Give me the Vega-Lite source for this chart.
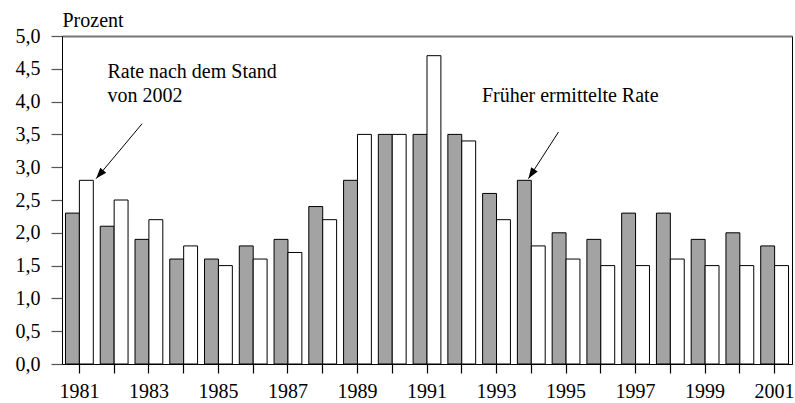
{
  "$schema": "https://vega.github.io/schema/vega-lite/v6.json",
  "width": 730,
  "height": 328,
  "autosize": "none",
  "padding": {"left": 62, "top": 36, "right": 3, "bottom": 39},
  "config": {
    "font": "Liberation Serif",
    "locale": {"number": {"decimal": ",", "thousands": ".", "grouping": [3], "currency": ["", " €"]}},
    "view": {"stroke": "black", "strokeWidth": 1},
    "axis": {"labelFont": "Liberation Serif", "labelFontSize": 20, "labelColor": "black", "grid": false}
  },
  "encoding": {
    "y": {
      "field": "value", "type": "quantitative",
      "scale": {"domain": [0, 5], "nice": false},
      "axis": {
        "title": "Prozent", "titleAngle": 0, "titleAlign": "left", "titleBaseline": "alphabetic",
        "titleX": 0, "titleY": -10, "titleFontSize": 20, "titleFontWeight": "normal",
        "titleFont": "Liberation Serif", "titleColor": "black",
        "values": [0, 0.5, 1, 1.5, 2, 2.5, 3, 3.5, 4, 4.5, 5], "format": ".1f",
        "tickSize": 11, "tickWidth": 1.2, "tickColor": "#555", "domainColor": "black", "labelPadding": 11
      }
    }
  },
  "layer": [
    {
      "data": {
        "values": [
          {"year": 1981, "series": "alt", "value": 2.3}, {"year": 1981, "series": "neu", "value": 2.8},
          {"year": 1982, "series": "alt", "value": 2.1}, {"year": 1982, "series": "neu", "value": 2.5},
          {"year": 1983, "series": "alt", "value": 1.9}, {"year": 1983, "series": "neu", "value": 2.2},
          {"year": 1984, "series": "alt", "value": 1.6}, {"year": 1984, "series": "neu", "value": 1.8},
          {"year": 1985, "series": "alt", "value": 1.6}, {"year": 1985, "series": "neu", "value": 1.5},
          {"year": 1986, "series": "alt", "value": 1.8}, {"year": 1986, "series": "neu", "value": 1.6},
          {"year": 1987, "series": "alt", "value": 1.9}, {"year": 1987, "series": "neu", "value": 1.7},
          {"year": 1988, "series": "alt", "value": 2.4}, {"year": 1988, "series": "neu", "value": 2.2},
          {"year": 1989, "series": "alt", "value": 2.8}, {"year": 1989, "series": "neu", "value": 3.5},
          {"year": 1990, "series": "alt", "value": 3.5}, {"year": 1990, "series": "neu", "value": 3.5},
          {"year": 1991, "series": "alt", "value": 3.5}, {"year": 1991, "series": "neu", "value": 4.7},
          {"year": 1992, "series": "alt", "value": 3.5}, {"year": 1992, "series": "neu", "value": 3.4},
          {"year": 1993, "series": "alt", "value": 2.6}, {"year": 1993, "series": "neu", "value": 2.2},
          {"year": 1994, "series": "alt", "value": 2.8}, {"year": 1994, "series": "neu", "value": 1.8},
          {"year": 1995, "series": "alt", "value": 2.0}, {"year": 1995, "series": "neu", "value": 1.6},
          {"year": 1996, "series": "alt", "value": 1.9}, {"year": 1996, "series": "neu", "value": 1.5},
          {"year": 1997, "series": "alt", "value": 2.3}, {"year": 1997, "series": "neu", "value": 1.5},
          {"year": 1998, "series": "alt", "value": 2.3}, {"year": 1998, "series": "neu", "value": 1.6},
          {"year": 1999, "series": "alt", "value": 1.9}, {"year": 1999, "series": "neu", "value": 1.5},
          {"year": 2000, "series": "alt", "value": 2.0}, {"year": 2000, "series": "neu", "value": 1.5},
          {"year": 2001, "series": "alt", "value": 1.8}, {"year": 2001, "series": "neu", "value": 1.5}
        ]
      },
      "mark": {"type": "bar", "stroke": "black", "strokeWidth": 1},
      "encoding": {
        "x": {
          "field": "year", "type": "ordinal",
          "scale": {"paddingInner": 0.2, "paddingOuter": 0.1},
          "axis": {
            "title": null, "labelAngle": 0, "tickSize": 9, "tickWidth": 1.2, "tickColor": "black",
            "domainColor": "black", "labelPadding": 8,
            "labelExpr": "datum.value % 2 == 1 ? datum.label : ''"
          }
        },
        "xOffset": {
          "field": "series", "type": "nominal",
          "scale": {"domain": ["alt", "neu"], "paddingInner": 0, "paddingOuter": 0}
        },
        "fill": {
          "field": "series", "type": "nominal",
          "scale": {"domain": ["alt", "neu"], "range": ["#a3a3a3", "#ffffff"]},
          "legend": null
        }
      }
    },
    {
      "encoding": {
        "x": {
          "field": "pos", "type": "quantitative",
          "scale": {"domain": [1980.5, 2001.5], "nice": false, "zero": false},
          "axis": {"orient": "top", "labels": false, "ticks": false, "title": null, "domainColor": "#777", "domainWidth": 2}
        }
      },
      "layer": [
        {
          "data": {
            "values": [
              {"pos": 1982.805, "value": 3.664, "pos2": 1981.483, "value2": 2.826},
              {"pos": 1994.782, "value": 3.536, "pos2": 1993.919, "value2": 2.826}
            ]
          },
          "mark": {"type": "rule", "stroke": "black", "strokeWidth": 1},
          "encoding": {
            "x2": {"field": "pos2"},
            "y2": {"field": "value2"}
          }
        },
        {
          "data": {
            "values": [
              {"pos": 1981.483, "value": 2.826, "angle": 219.9},
              {"pos": 1993.919, "value": 2.826, "angle": 212.8}
            ]
          },
          "mark": {"type": "point", "shape": "M0,0L-0.35,1L0.35,1Z", "filled": true, "fill": "black", "size": 484, "opacity": 1, "strokeWidth": 0},
          "encoding": {
            "angle": {"field": "angle", "type": "quantitative", "scale": null}
          }
        },
        {
          "data": {
            "values": [
              {"pos": 1981.808, "value": 4.353, "t": "Rate nach dem Stand"},
              {"pos": 1981.808, "value": 3.988, "t": "von 2002"},
              {"pos": 1992.58, "value": 3.992, "t": "Früher ermittelte Rate"}
            ]
          },
          "mark": {"type": "text", "align": "left", "baseline": "alphabetic", "fontSize": 20, "font": "Liberation Serif", "color": "black"},
          "encoding": {
            "text": {"field": "t"}
          }
        }
      ]
    }
  ],
  "resolve": {"scale": {"x": "independent"}, "axis": {"x": "independent"}}
}
